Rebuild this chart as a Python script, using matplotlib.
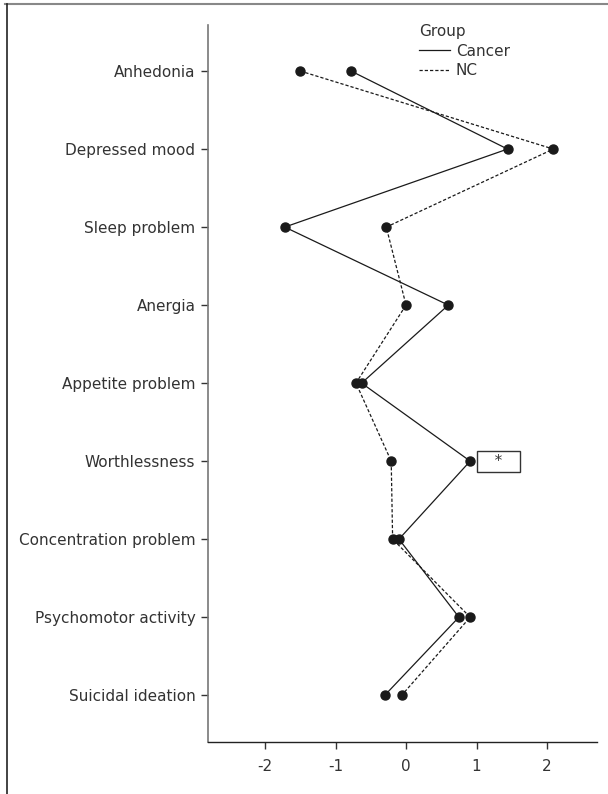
import matplotlib
matplotlib.use("Agg")
import matplotlib.pyplot as plt
from matplotlib.lines import Line2D

plt.rcParams['font.family'] = ['DejaVu Sans']

symptoms = ["Anhedonia", "Depressed mood", "Sleep problem", "Anergia",
            "Appetite problem", "Worthlessness", "Concentration problem",
            "Psychomotor activity", "Suicidal ideation"]
cancer = [-0.78, 1.44, -1.72, 0.60, -0.63, 0.91, -0.10, 0.75, -0.30]
nc = [-1.50, 2.09, -0.28, 0.00, -0.71, -0.21, -0.19, 0.91, -0.06]
xticks = [-2, -1, 0, 1, 2]
groups = ["Cancer", "NC"]

FS = 11
DASH = (0, (2.6, 1.6))

fig = plt.figure(figsize=(6.08, 7.94), dpi=100)
ax = fig.add_axes([0.342, 0.0655, 0.640, 0.903])

ypos = list(range(len(symptoms)))
ax.plot(cancer, ypos, color='#1a1a1a', lw=0.9, ls='-', marker='o', ms=6.5,
        mfc='#1a1a1a', mec='#1a1a1a')
ax.plot(nc, ypos, color='#1a1a1a', lw=0.9, ls=DASH, marker='o', ms=6.5,
        mfc='#1a1a1a', mec='#1a1a1a')

ax.set_xlim(-2.81, 2.71)
ax.set_ylim(len(symptoms) - 1 + 0.6, -0.59)
ax.set_yticks(ypos)
ax.set_yticklabels(symptoms, fontsize=FS, color='#333333')
ax.set_xticks(xticks)
ax.set_xticklabels([str(v) for v in xticks], fontsize=FS, color='#333333')
ax.tick_params(axis='both', length=5, width=1, color='#333333', pad=4)
ax.tick_params(axis='x', pad=7)
for s in ['top', 'right']:
    ax.spines[s].set_visible(False)
ax.spines['left'].set_color('#777777')
ax.spines['left'].set_linewidth(1.2)
ax.spines['bottom'].set_color('#222222')
ax.spines['bottom'].set_linewidth(1.0)

# significance box
ax.text(1.31, 5, "   *   ", ha='center', va='center', fontsize=FS,
        bbox=dict(boxstyle='square,pad=0.2', fc='white', ec='#333333', lw=1),
        zorder=5, color='#333333')

handles = [Line2D([], [], color='#1a1a1a', lw=0.9, ls='-'),
           Line2D([], [], color='#1a1a1a', lw=0.9, ls=DASH)]
leg = ax.legend(handles, groups, title="Group", loc='upper left',
                bbox_to_anchor=(0.515, 1.016), frameon=False, fontsize=FS,
                title_fontsize=FS, handlelength=2.0, handletextpad=0.4,
                labelspacing=0.3, alignment='left', borderpad=0.2)
for t in leg.get_texts():
    t.set_color('#333333')
leg.get_title().set_color('#333333')

# outer frame lines (top and left)
fig.add_artist(Line2D([5 / 608, 1], [1 - 4 / 794, 1 - 4 / 794],
                      transform=fig.transFigure, color='#888888', lw=1.5))
fig.add_artist(Line2D([7 / 608, 7 / 608], [0, 1 - 4 / 794],
                      transform=fig.transFigure, color='#222222', lw=1.2))

fig.savefig("out.png", dpi=100)
